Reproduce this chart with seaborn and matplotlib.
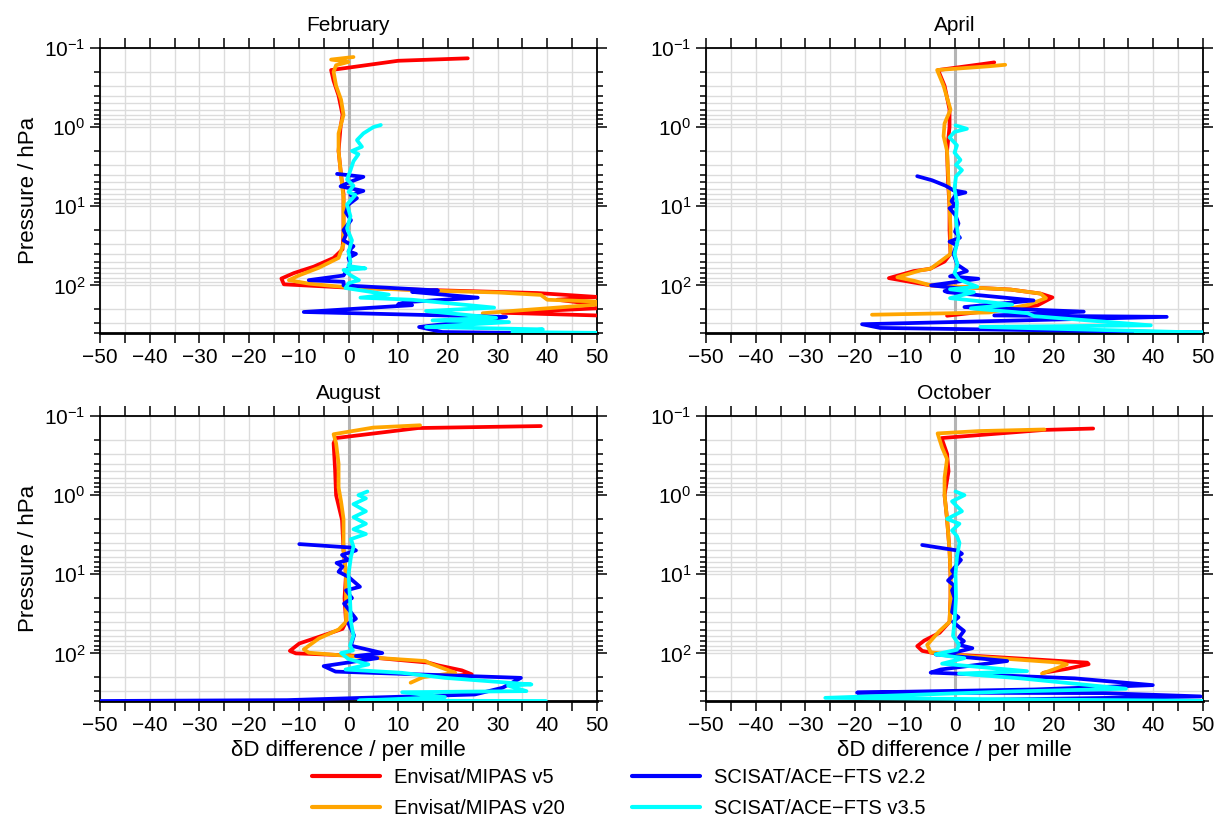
import pandas as pd
import seaborn as sns
import matplotlib
matplotlib.use("Agg")
import matplotlib.pyplot as plt
from matplotlib.ticker import MultipleLocator, LogLocator, NullFormatter
from matplotlib.lines import Line2D

months = ["February", "April", "August", "October"]
series = ["Envisat/MIPAS v5", "Envisat/MIPAS v20",
          "SCISAT/ACE\u2212FTS v2.2", "SCISAT/ACE\u2212FTS v3.5"]
colors = ["#ff0000", "#ffa500", "#0000ff", "#00ffff"]

# February
feb_v5_dd = [24, 10, -3.5, -3, -2, -1.2, -1.6, -2, -1.5, -1, -1, -1, -1.2, -3, -7, -11, -13.5, -13, -5, 0,
             15, 30, 38, 50, 42, 50, 50, 31, 50]
feb_v5_p = [0.135, 0.145, 0.19, 0.26, 0.4, 0.7, 1.0, 2.0, 4.0, 7, 12, 20, 35, 45, 58, 70, 82, 97, 103, 107,
            114, 121, 125, 140, 152, 175, 195, 222, 240]
feb_v20_dd = [1, -3.5, 0, -2.5, -3, -2.5, -1.5, -1, -2, -2, -1.5, -1, -1, -1, -2, -6, -10, -12, -8, -3, 0,
              15, 30, 38.7, 40, 50, 50, 31, 27]
feb_v20_p = [0.13, 0.14, 0.15, 0.165, 0.2, 0.3, 0.45, 0.7, 1.2, 2, 4, 8, 15, 30, 45, 60, 75, 86, 95, 102, 106,
             116, 123, 132, 152, 160, 175, 215, 225]
feb_ace22_dd = [-2.3, 3, 0.4, -1.6, 3, 0.4, 1.7, 0, -0.5, 0.5, -1, -0.5, -1, 1, 0, 1.5, 0, 0.3, 0, -1, -8, -1,
                -1, 18, 12.8, 26, 11.4, 10, 12.8, -9, 31.7, 14.2, 18.9, 33]
feb_ace22_p = [3.9, 4.25, 4.9, 5.6, 6.4, 7.2, 7.9, 9.5, 12, 15, 20, 23, 27, 32, 37, 40, 45, 52, 60, 75, 86, 90,
               100, 116, 121, 143, 163, 173, 178, 217, 251, 336, 389, 398]
feb_ace35_dd = [6.5, 5, 3, 1.7, 2.7, 0.7, 2, 1, 0.4, -0.3, 1, 0, 1.4, -0.3, 0.4, -0.3, 0.7, 0, 0.4, 0, 3.4, -1,
                0.5, 2.1, 0, -0.6, 8.1, 2.4, 12.8, 29.3, 15.6, 29.7, 16.9, 32.3, 15.6, 39.1, 33, 50]
feb_ace35_p = [0.94, 1.0, 1.2, 1.46, 1.77, 2.0, 2.2, 2.7, 3.5, 4.6, 5.5, 6.6, 7.2, 9.5, 13.4, 19, 27, 38, 50, 57,
               61, 64, 75, 86, 94, 108, 131, 143, 152, 191, 211, 257, 277, 291, 336, 360, 389, 398]

# April
apr_v5_dd = [8, 5.5, -3.3, -2, -1, -1, -1.5, -1.3, -1, -1, -0.8, -2, -5, -8.2, -13.2, -8.2, -4.8, 11.3, 17.3,
             19.7, 16.7, 12.5, -1.5]
apr_v5_p = [0.152, 0.16, 0.19, 0.3, 0.6, 1.0, 2, 5, 10, 20, 40, 50, 62, 66, 81, 92, 100, 113, 127, 142, 179,
            192, 242]
apr_v20_dd = [10.2, 7, -3.5, -2.2, -0.8, -2, -2.2, -1.5, -1.2, -1, -0.8, -0.8, -4.8, -7, -11.5, -8, -4.8, 11.3,
              17.3, 18.4, 15, 12.2, 7, -16.6]
apr_v20_p = [0.163, 0.17, 0.19, 0.3, 0.6, 0.9, 1.3, 2, 5, 10, 20, 40, 61.5, 65, 79, 88, 100, 113, 127, 145, 175,
             190, 220, 235]
apr_ace22_dd = [-7.5, -4.5, -1.8, -0.2, 2.2, 0.2, -0.6, 0.1, -1, 0.2, 0.8, 0.1, 1.1, -1, 0.4, -0.2, 0.6, 2.5,
                -0.9, 4.8, -4.7, 1.3, -2, -1.4, 15.9, 2, 26, 8, 42.7, -18.6, -15, 50]
apr_ace22_p = [4.17, 4.7, 5.5, 6.3, 6.7, 7.2, 8.6, 9.8, 10.6, 13, 16.5, 21, 25, 28, 31, 40, 55, 66, 77, 82.5,
               100, 110, 118, 122, 155, 188, 215, 240, 250, 310, 345, 395]
apr_ace35_dd = [0.2, 2.5, 0, -1, 0.5, 0, 1.2, 0.3, 1.5, 0.3, 0, 0.5, 0.3, 0.8, 0, 0.6, 0, 1, 4.6, -0.9, 3.9,
                -0.9, 11.6, 3.3, 14.7, 16, 39.5, 5.2, 50, 36.5]
apr_ace35_p = [0.95, 1.05, 1.15, 1.35, 1.7, 2.1, 2.6, 3.0, 3.5, 4.2, 6, 9, 15, 25, 40, 55, 70, 85, 104, 112, 122,
               145, 175, 195, 225, 245, 320, 335, 395, 400]

# August
aug_v5_dd = [38.7, 14, -2.5, -3, -2.7, -2.5, -1.3, -1, -0.5, -0.8, -0.5, -1.2, -6, -9.9, -11.8, -10.6, 0,
             16.1, 18.1, 22.8, 24.8, 21.5]
aug_v5_p = [0.134, 0.142, 0.19, 0.22, 0.48, 1.0, 2.06, 5, 10, 20, 40, 49, 62, 75, 93, 100, 106, 131, 142, 164,
            184, 191]
aug_v20_dd = [14.4, 5, -3, -2.5, -2, -2, -1.5, -1, -1, -0.5, -0.5, -2, -6, -9, -8, 0, 15.5, 16.5, 21.5, 15, 12.5]
aug_v20_p = [0.131, 0.14, 0.17, 0.22, 0.4, 0.8, 1.2, 2, 5, 10, 40, 50, 65, 89, 98, 108, 125, 135, 176, 200, 235]
aug_ace22_dd = [-9.9, 0.5, 1.5, -1.3, 0, -2.4, -1.2, -2, 0, 2.3, -0.5, 0.7, -0.9, 1.5, 0, 1.1, 0.5, 6.8, 1.5,
                5.8, -5, -2.6, 34.7, 31, 25.4, -12.4, -50]
aug_ace22_p = [4.16, 4.6, 5, 5.7, 6.6, 7.2, 8, 9.3, 10.8, 14.4, 16, 20, 23.5, 36.5, 42, 59, 80, 99, 108, 115,
               145, 170, 204, 272, 331, 390, 400]
aug_ace35_dd = [3.8, 2, 3.5, 1, 3.5, 1, 3.5, 1, 3.5, 0.5, 1, 0.5, 0, 0.3, 0.5, 1, 0.3, 0.9, -1.5, 0, 4, -0.6,
                10.7, 19.4, 36.8, 32.1, 35.8, 10.8, 19.4, 2.1, 39.7]
aug_ace35_p = [0.9, 1.0, 1.1, 1.3, 1.6, 1.9, 2.3, 2.7, 3.1, 3.6, 4.5, 6, 10, 20, 40, 60, 80, 92, 99, 118, 138,
               160, 176, 204, 247, 256, 300, 310, 357, 395, 400]

# October
oct_v5_dd = [27.9, 18, -2.6, -1.5, -1.2, -2, -1.5, -1, -0.8, -0.8, -1, -3, -6.1, -7.5, -6.5, -2.8, 2.5, 15.9,
             26.7, 27, 22.6, 17.9]
oct_v5_p = [0.144, 0.15, 0.19, 0.3, 0.5, 1.0, 2, 5, 10, 20, 40, 55, 69, 81, 93, 103, 106, 119, 131, 137, 157, 176]
oct_v20_dd = [18.1, 5, -3.4, -2.5, -1.5, -2, -2, -1.5, -1, -0.8, -0.8, -1, -3, -5.5, -4.8, 2.5, 21.3, 22.6,
              19.9, 17.6]
oct_v20_p = [0.148, 0.155, 0.166, 0.25, 0.35, 0.6, 1.0, 2, 5, 10, 20, 40, 52, 78, 97, 108, 131, 138, 160, 180]
oct_ace22_dd = [-6.5, 0.5, 1.5, 0.5, 1.3, -0.5, 0, -1.3, 0, -0.5, 0, -0.5, 0.8, -0.3, 1, 1.9, 0.9, 1.9, 0.9,
                3.6, -0.1, -3.8, 10.6, -2.8, -4.8, 24.2, 39.9, 16.1, -19.6, 30, 49.5, 0.3, 50]
oct_ace22_p = [4.27, 5, 5.5, 6, 6.6, 9, 10, 12, 14, 16, 20, 30, 35, 40, 47, 52, 63, 70, 78, 86, 98, 103, 125,
               160, 175, 207, 252, 286, 313, 318, 350, 392, 398]
oct_ace35_dd = [0.2, 2, -0.5, 1.5, -1.5, 1, -0.5, 0.5, 1, 0.5, 0.2, 0.3, 0, -0.3, 0.9, 0.5, -3.8, 2, -2.5,
                14.6, 0.9, 13.3, 34.5, 10, -26, 50]
oct_ace35_p = [0.9, 1.0, 1.2, 1.6, 2.0, 2.3, 2.8, 3.3, 4, 6, 10, 20, 40, 60, 78, 90, 103, 115, 135, 168, 180,
               207, 280, 305, 365, 398]

profiles = {
    "February": [(feb_v5_dd, feb_v5_p), (feb_v20_dd, feb_v20_p), (feb_ace22_dd, feb_ace22_p), (feb_ace35_dd, feb_ace35_p)],
    "April": [(apr_v5_dd, apr_v5_p), (apr_v20_dd, apr_v20_p), (apr_ace22_dd, apr_ace22_p), (apr_ace35_dd, apr_ace35_p)],
    "August": [(aug_v5_dd, aug_v5_p), (aug_v20_dd, aug_v20_p), (aug_ace22_dd, aug_ace22_p), (aug_ace35_dd, aug_ace35_p)],
    "October": [(oct_v5_dd, oct_v5_p), (oct_v20_dd, oct_v20_p), (oct_ace22_dd, oct_ace22_p), (oct_ace35_dd, oct_ace35_p)],
}

rows = []
for m in months:
    for name, (dd, p) in zip(series, profiles[m]):
        for d, pp in zip(dd, p):
            rows.append({"month": m, "series": name, "dd": d, "p": pp})
df = pd.DataFrame(rows)

sns.set_style("ticks")
plt.rcParams["font.family"] = ["Liberation Sans", "DejaVu Sans"]
plt.rcParams["mathtext.fontset"] = "custom"
plt.rcParams["mathtext.rm"] = "Liberation Sans"
plt.rcParams["mathtext.it"] = "Liberation Sans:italic"
plt.rcParams["mathtext.bf"] = "Liberation Sans:bold"
for k in ["text.color", "axes.labelcolor", "xtick.color", "ytick.color", "axes.edgecolor"]:
    plt.rcParams[k] = "black"

fig = plt.figure(figsize=(12.18, 8.26), dpi=100)
W, H = 1218, 826
boxes = [(100, 48), (706, 48), (100, 416), (706, 416)]
palette = dict(zip(series, colors))

for i, m in enumerate(months):
    x0, y0 = boxes[i]
    ax = fig.add_axes([x0 / W, 1 - (y0 + 285) / H, 497 / W, 285 / H])
    ax.axvline(0, color="#b5b5b5", lw=2.2, zorder=1.5)
    sns.lineplot(data=df[df.month == m], x="dd", y="p", hue="series", hue_order=series,
                 palette=palette, sort=False, estimator=None, linewidth=2.7,
                 legend=False, ax=ax, zorder=3)
    ax.set_yscale("log")
    ax.set_ylim(400, 0.1)
    ax.set_xlim(-50, 50)
    ax.xaxis.set_major_locator(MultipleLocator(10))
    ax.xaxis.set_minor_locator(MultipleLocator(5))
    ax.yaxis.set_major_locator(LogLocator(base=10, numticks=10))
    ax.yaxis.set_minor_locator(LogLocator(base=10, subs=range(2, 10), numticks=20))
    ax.yaxis.set_minor_formatter(NullFormatter())
    ax.grid(which="both", color="#dcdcdc", lw=1.0)
    ax.set_axisbelow(True)
    ax.tick_params(which="both", top=True, right=True, direction="out", width=1.1, labelsize=15)
    ax.tick_params(axis="x", which="both", length=7)
    ax.tick_params(axis="y", which="major", length=7)
    ax.tick_params(axis="y", which="minor", length=4)
    for s in ax.spines.values():
        s.set_linewidth(1.3)
    ax.spines["bottom"].set_linewidth(2)
    ax.set_title(m, fontsize=15, pad=12)
    ax.set_xlabel("\u03b4D difference / per mille" if i >= 2 else "", fontsize=16)
    ax.set_ylabel("Pressure / hPa" if i % 2 == 0 else "", fontsize=16)

handles = [Line2D([], [], color=c, lw=3) for c in colors]
fig.legend(handles, series, loc="lower center", bbox_to_anchor=(0.508, -0.012), ncol=2, frameon=False,
           fontsize=14.5, handlelength=3.4, handletextpad=0.7, columnspacing=3.3, labelspacing=0.6)

fig.savefig("out.png", dpi=100)
